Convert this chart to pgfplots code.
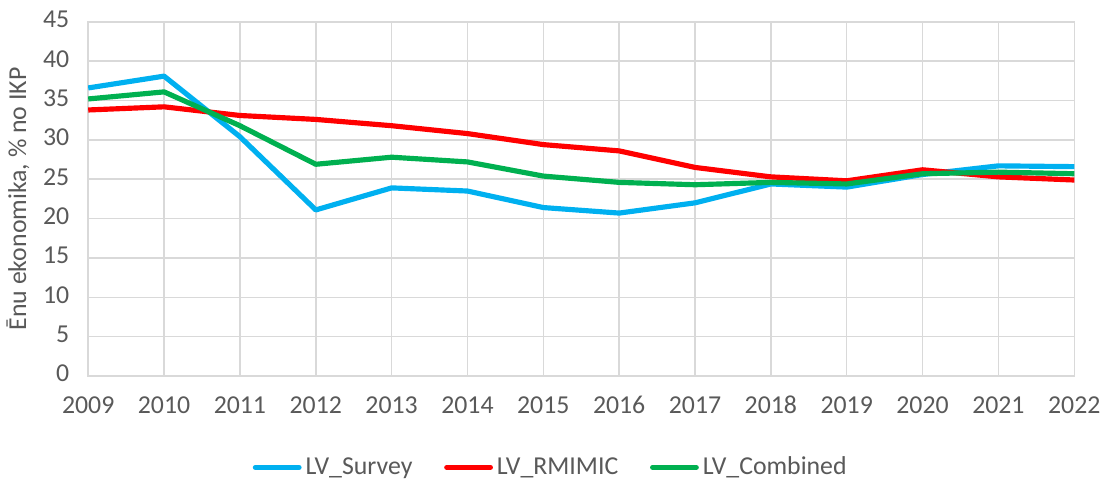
\documentclass[border=0pt]{standalone}
\usepackage{fontspec}
\setmainfont{Carlito}
\usepackage{pgfplots}
\pgfplotsset{compat=1.18}
\definecolor{cSurvey}{HTML}{00B0F0}
\definecolor{cRM}{HTML}{FF0000}
\definecolor{cComb}{HTML}{00B050}
\definecolor{gridc}{HTML}{D9D9D9}
\definecolor{txt}{HTML}{595959}
\begin{document}
\begin{tikzpicture}
\begin{axis}[
  scale only axis,
  width=497pt, height=178.5pt,
  xmin=2009, xmax=2022, ymin=0, ymax=45,
  xtick={2009,...,2022}, ytick={0,5,...,45},
  /pgf/number format/assume math mode=true,
  x tick label style={/pgf/number format/1000 sep={}},
  typeset ticklabels with strut,
  grid=major,
  major grid style={gridc, line width=0.75pt},
  axis line style={gridc, line width=0.75pt},
  major tick length=0pt,
  tick label style={font=\fontsize{13}{15}\selectfont, text=txt},
  xticklabel shift=5pt,
  yticklabel shift=6pt,
  ylabel={Ēnu ekonomika, \% no IKP},
  ylabel shift=0pt,
  ylabel style={font=\fontsize{13}{15}\selectfont, text=txt},
  legend style={at={(0.47,-0.205)}, anchor=north, draw=none, font=\fontsize{13}{15}\selectfont, text=txt,
    legend columns=3, /tikz/every even column/.append style={column sep=14pt}},
  legend image code/.code={\draw[#1, line cap=round] (0pt,0pt) -- (22pt,0pt);},
  every axis plot/.append style={line width=2.6pt, line join=round},
  extra description/.code={\path (rel axis cs:0,1) ++(0pt,11pt);},
]
\addplot[cSurvey] coordinates {(2009,36.6)(2010,38.1)(2011,30.4)(2012,21.1)(2013,23.9)(2014,23.5)(2015,21.4)(2016,20.7)(2017,22.0)(2018,24.4)(2019,24.0)(2020,25.6)(2021,26.7)(2022,26.6)};
\addlegendentry{LV\_Survey}
\addplot[cRM] coordinates {(2009,33.8)(2010,34.2)(2011,33.1)(2012,32.6)(2013,31.8)(2014,30.8)(2015,29.4)(2016,28.6)(2017,26.5)(2018,25.3)(2019,24.8)(2020,26.2)(2021,25.3)(2022,24.9)};
\addlegendentry{LV\_RMIMIC}
\addplot[cComb] coordinates {(2009,35.2)(2010,36.1)(2011,31.8)(2012,26.9)(2013,27.8)(2014,27.2)(2015,25.4)(2016,24.6)(2017,24.3)(2018,24.6)(2019,24.4)(2020,25.7)(2021,25.9)(2022,25.7)};
\addlegendentry{LV\_Combined}
\end{axis}
\end{tikzpicture}
\end{document}
